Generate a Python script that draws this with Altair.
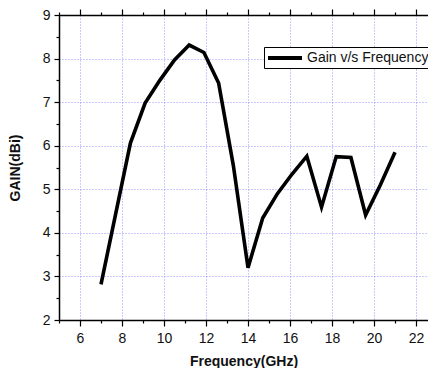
import altair as alt
import pandas as pd

freq = [7.0, 8.4, 9.1, 9.8, 10.5, 11.2, 11.9, 12.6, 13.3, 14.0,
        14.7, 15.4, 16.1, 16.8, 17.5, 18.2, 18.9, 19.6, 20.3, 21.0]
gain = [2.82, 6.06, 6.98, 7.5, 7.97, 8.31, 8.14, 7.44, 5.55, 3.2,
        4.34, 4.9, 5.35, 5.76, 4.59, 5.75, 5.73, 4.41, 5.1, 5.85]
series_name = "Gain v/s Frequency"
x_ticks = [5, 6, 7, 8, 9, 10, 11, 12, 13, 14, 15, 16, 17, 18, 19, 20, 21, 22]
y_ticks = [2, 2.5, 3, 3.5, 4, 4.5, 5, 5.5, 6, 6.5, 7, 7.5, 8, 8.5, 9]

df = pd.DataFrame({"freq": freq, "gain": gain, "series": [series_name] * len(freq)})

FONT = "Liberation Sans"
GRID = "#7070ff"

xscale = alt.Scale(domain=[5, 22.57], nice=False, zero=False)
yscale = alt.Scale(domain=[2, 9], nice=False, zero=False)

x_bottom = alt.Axis(
    orient="bottom", values=x_ticks, title="Frequency(GHz)",
    labelExpr="datum.value % 2 == 0 ? format(datum.value, 'd') : ''",
    tickSize={"condition": {"test": "datum.value % 2 != 0", "value": 3}, "value": 6},
    gridOpacity={"condition": {"test": "datum.value % 2 != 0", "value": 0}, "value": 0.75},
    grid=True, gridColor=GRID, gridDash=[1, 2], gridWidth=1,
    domainColor="black", domainWidth=1.5, tickColor="black", tickWidth=1.2,
    labelFont=FONT, labelFontSize=14, labelColor="#111", labelPadding=5,
    titleFont=FONT, titleFontSize=14, titleFontWeight="bold", titleColor="#111",
    titlePadding=9,
)
x_top = alt.Axis(
    orient="top", values=x_ticks, title=None, labels=False, grid=False,
    tickSize={"condition": {"test": "datum.value % 2 != 0", "value": 3}, "value": 6},
    domainColor="black", domainWidth=1.5, tickColor="black", tickWidth=1.2,
)
y_left = alt.Axis(
    orient="left", values=y_ticks, title="GAIN(dBi)",
    labelExpr="datum.value % 1 == 0 ? format(datum.value, 'd') : ''",
    tickSize={"condition": {"test": "datum.value % 1 != 0", "value": 3}, "value": 5},
    gridOpacity={"condition": {"test": "datum.value % 1 != 0 || datum.value == 2 || datum.value == 9", "value": 0}, "value": 0.75},
    grid=True, gridColor=GRID, gridDash=[1, 2], gridWidth=1,
    domainColor="black", domainWidth=1.5, tickColor="black", tickWidth=1.2,
    labelFont=FONT, labelFontSize=14, labelColor="#111", labelPadding=4,
    titleFont=FONT, titleFontSize=14, titleFontWeight="bold", titleColor="#111",
    titlePadding=20,
)

line = alt.Chart(df).mark_line(strokeWidth=3.6, strokeJoin="miter").encode(
    x=alt.X("freq:Q", scale=xscale, axis=x_bottom),
    y=alt.Y("gain:Q", scale=yscale, axis=y_left),
    color=alt.Color(
        "series:N",
        scale=alt.Scale(range=["black"]),
        legend=alt.Legend(
            title=None, orient="none", legendX=205, legendY=32,
            symbolType="M-1,0H3.857", symbolSize=196, symbolStrokeWidth=4,
            symbolStrokeColor="black",
            labelFont=FONT, labelFontSize=14, labelColor="#111", labelOffset=23,
            padding=2, strokeColor="black", fillColor="white",
        ),
    ),
)

top = alt.Chart(df).mark_point(opacity=0).encode(
    x=alt.X("freq:Q", scale=xscale, axis=x_top),
    y=alt.Y("gain:Q", scale=yscale, axis=y_left),
)

chart = alt.layer(line, top).resolve_axis(x="independent").properties(
    width=369, height=305,
    autosize=alt.AutoSizeParams(type="none"),
    padding={"left": 51, "top": 7, "right": 0, "bottom": 48},
    background="white",
).configure_view(stroke=None)

chart.save("out.html", embed_options={"renderer": "svg", "actions": False})
